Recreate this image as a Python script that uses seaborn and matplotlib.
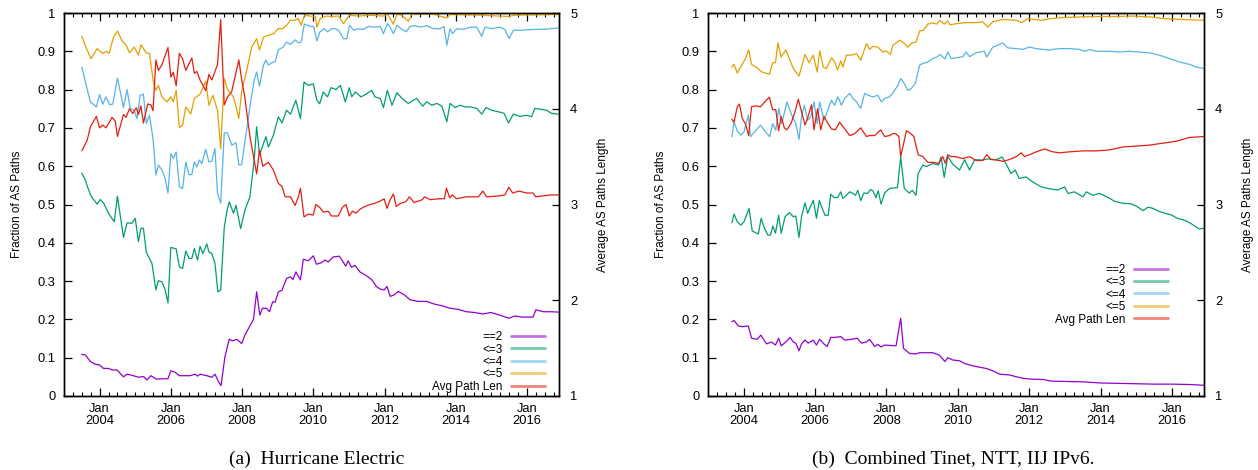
import numpy as np
import pandas as pd
import matplotlib
matplotlib.use("Agg")
import matplotlib.pyplot as plt
from matplotlib.lines import Line2D
import seaborn as sns

# ---------------- Panel (a): Hurricane Electric ----------------
he_t_eq2 = [2003.50, 2003.60, 2003.74, 2003.88, 2004.00, 2004.11, 2004.25, 2004.35, 2004.49, 2004.67,
            2004.77, 2004.91, 2005.09, 2005.23, 2005.33, 2005.44, 2005.59, 2005.75, 2005.92, 2006.00,
            2006.12, 2006.24, 2006.40, 2006.54, 2006.68, 2006.75, 2006.82, 2007.01, 2007.15, 2007.24,
            2007.34, 2007.41, 2007.52, 2007.64, 2007.73, 2007.85, 2007.99, 2008.08, 2008.32, 2008.41,
            2008.50, 2008.57, 2008.69, 2008.77, 2008.86, 2008.93, 2009.02, 2009.12, 2009.25, 2009.36,
            2009.43, 2009.51, 2009.64, 2009.72, 2009.86, 2010.00, 2010.09, 2010.23, 2010.33, 2010.42,
            2010.56, 2010.73, 2010.84, 2010.91, 2010.98, 2011.07, 2011.17, 2011.31, 2011.48, 2011.65,
            2011.77, 2011.88, 2011.99, 2012.07, 2012.16, 2012.27, 2012.39, 2012.56, 2012.72, 2012.95,
            2013.18, 2013.40, 2013.63, 2013.85, 2014.08, 2014.30, 2014.53, 2014.76, 2014.98, 2015.21,
            2015.49, 2015.66, 2015.88, 2016.17, 2016.25, 2016.46, 2016.68, 2016.90]
he_eq2 = [0.109, 0.107, 0.090, 0.083, 0.081, 0.072, 0.072, 0.068, 0.068, 0.050,
          0.057, 0.054, 0.049, 0.051, 0.042, 0.053, 0.044, 0.045, 0.045, 0.066,
          0.062, 0.053, 0.053, 0.053, 0.057, 0.052, 0.057, 0.053, 0.049, 0.057,
          0.037, 0.027, 0.103, 0.148, 0.144, 0.148, 0.137, 0.159, 0.200, 0.272,
          0.211, 0.229, 0.229, 0.220, 0.246, 0.245, 0.272, 0.276, 0.307, 0.311,
          0.304, 0.324, 0.303, 0.357, 0.353, 0.366, 0.344, 0.348, 0.355, 0.350,
          0.363, 0.365, 0.350, 0.339, 0.353, 0.336, 0.341, 0.324, 0.315, 0.303,
          0.286, 0.279, 0.277, 0.286, 0.260, 0.264, 0.273, 0.264, 0.251, 0.247,
          0.247, 0.240, 0.235, 0.229, 0.226, 0.220, 0.218, 0.214, 0.218, 0.212,
          0.203, 0.209, 0.206, 0.206, 0.225, 0.220, 0.220, 0.219]

he_t_le3 = [2003.50, 2003.60, 2003.66, 2003.76, 2003.93, 2004.02, 2004.11, 2004.25, 2004.41, 2004.50,
            2004.67, 2004.77, 2004.91, 2005.00, 2005.09, 2005.16, 2005.23, 2005.31, 2005.47, 2005.58,
            2005.65, 2005.75, 2005.84, 2005.92, 2006.00, 2006.15, 2006.24, 2006.33, 2006.42, 2006.51,
            2006.59, 2006.66, 2006.75, 2006.82, 2006.90, 2007.01, 2007.07, 2007.15, 2007.24, 2007.32,
            2007.40, 2007.50, 2007.58, 2007.64, 2007.76, 2007.83, 2007.96, 2008.08, 2008.22, 2008.34,
            2008.41, 2008.49, 2008.60, 2008.67, 2008.74, 2008.88, 2009.02, 2009.12, 2009.25, 2009.36,
            2009.51, 2009.64, 2009.74, 2009.86, 2010.00, 2010.10, 2010.18, 2010.28, 2010.40, 2010.50,
            2010.64, 2010.76, 2010.90, 2011.01, 2011.08, 2011.18, 2011.34, 2011.46, 2011.64, 2011.73,
            2011.88, 2011.97, 2012.08, 2012.21, 2012.35, 2012.49, 2012.67, 2012.81, 2012.90, 2013.07,
            2013.19, 2013.33, 2013.47, 2013.61, 2013.75, 2013.84, 2013.98, 2014.12, 2014.26, 2014.40,
            2014.59, 2014.73, 2014.85, 2015.01, 2015.20, 2015.36, 2015.48, 2015.62, 2015.80, 2015.99,
            2016.13, 2016.22, 2016.36, 2016.55, 2016.69, 2016.88]
he_le3 = [0.582, 0.564, 0.546, 0.522, 0.501, 0.513, 0.504, 0.477, 0.455, 0.522,
          0.414, 0.452, 0.451, 0.464, 0.403, 0.438, 0.438, 0.376, 0.346, 0.277,
          0.301, 0.298, 0.277, 0.243, 0.388, 0.384, 0.337, 0.333, 0.379, 0.359,
          0.359, 0.385, 0.355, 0.391, 0.372, 0.397, 0.376, 0.372, 0.346, 0.272,
          0.277, 0.440, 0.485, 0.507, 0.477, 0.498, 0.437, 0.485, 0.520, 0.616,
          0.703, 0.629, 0.659, 0.677, 0.650, 0.681, 0.729, 0.713, 0.746, 0.736,
          0.772, 0.724, 0.820, 0.811, 0.815, 0.772, 0.763, 0.794, 0.781, 0.805,
          0.800, 0.811, 0.768, 0.805, 0.781, 0.794, 0.781, 0.787, 0.798, 0.781,
          0.777, 0.753, 0.798, 0.759, 0.792, 0.777, 0.764, 0.772, 0.777, 0.757,
          0.768, 0.759, 0.764, 0.757, 0.716, 0.764, 0.753, 0.759, 0.755, 0.755,
          0.751, 0.736, 0.753, 0.746, 0.742, 0.738, 0.713, 0.736, 0.730, 0.733,
          0.729, 0.751, 0.749, 0.746, 0.738, 0.736]

he_t_le4 = [2003.50, 2003.60, 2003.74, 2003.91, 2004.00, 2004.09, 2004.18, 2004.28, 2004.37, 2004.50,
            2004.61, 2004.67, 2004.77, 2004.86, 2004.97, 2005.05, 2005.14, 2005.23, 2005.31, 2005.40,
            2005.50, 2005.58, 2005.65, 2005.75, 2005.84, 2005.92, 2006.00, 2006.07, 2006.15, 2006.24,
            2006.33, 2006.42, 2006.51, 2006.59, 2006.66, 2006.73, 2006.80, 2006.87, 2006.98, 2007.07,
            2007.15, 2007.24, 2007.31, 2007.40, 2007.50, 2007.59, 2007.71, 2007.83, 2007.91, 2007.99,
            2008.08, 2008.22, 2008.34, 2008.41, 2008.49, 2008.60, 2008.67, 2008.74, 2008.83, 2008.93,
            2009.02, 2009.14, 2009.25, 2009.36, 2009.49, 2009.58, 2009.66, 2009.75, 2009.92, 2010.01,
            2010.10, 2010.19, 2010.31, 2010.40, 2010.52, 2010.61, 2010.71, 2010.85, 2010.94, 2011.02,
            2011.13, 2011.27, 2011.41, 2011.55, 2011.69, 2011.88, 2011.97, 2012.08, 2012.16, 2012.25,
            2012.35, 2012.49, 2012.61, 2012.72, 2012.86, 2013.00, 2013.19, 2013.37, 2013.56, 2013.67,
            2013.75, 2013.84, 2013.91, 2014.03, 2014.21, 2014.40, 2014.59, 2014.73, 2014.82, 2015.01,
            2015.24, 2015.38, 2015.50, 2015.62, 2015.80, 2016.18, 2016.55, 2016.88]
he_le4 = [0.859, 0.820, 0.768, 0.755, 0.787, 0.762, 0.781, 0.761, 0.762, 0.830,
          0.781, 0.753, 0.800, 0.751, 0.746, 0.724, 0.785, 0.788, 0.711, 0.733,
          0.672, 0.577, 0.603, 0.590, 0.568, 0.530, 0.633, 0.620, 0.637, 0.546,
          0.542, 0.611, 0.578, 0.578, 0.611, 0.598, 0.616, 0.607, 0.644, 0.611,
          0.613, 0.646, 0.529, 0.504, 0.687, 0.687, 0.655, 0.661, 0.603, 0.605,
          0.663, 0.755, 0.824, 0.846, 0.809, 0.864, 0.877, 0.864, 0.870, 0.873,
          0.904, 0.910, 0.924, 0.918, 0.930, 0.922, 0.924, 0.971, 0.965, 0.965,
          0.927, 0.951, 0.959, 0.951, 0.959, 0.959, 0.955, 0.933, 0.933, 0.968,
          0.955, 0.959, 0.957, 0.965, 0.963, 0.965, 0.946, 0.972, 0.963, 0.946,
          0.968, 0.957, 0.951, 0.965, 0.967, 0.963, 0.967, 0.959, 0.959, 0.965,
          0.916, 0.959, 0.946, 0.959, 0.957, 0.963, 0.963, 0.939, 0.963, 0.959,
          0.963, 0.957, 0.933, 0.955, 0.955, 0.957, 0.958, 0.961]

he_t_le5 = [2003.50, 2003.65, 2003.76, 2003.93, 2004.09, 2004.18, 2004.27, 2004.39, 2004.50, 2004.63,
            2004.74, 2004.84, 2004.97, 2005.09, 2005.16, 2005.31, 2005.40, 2005.51, 2005.58, 2005.65,
            2005.75, 2005.89, 2006.00, 2006.07, 2006.15, 2006.24, 2006.33, 2006.42, 2006.56, 2006.66,
            2006.82, 2006.98, 2007.07, 2007.18, 2007.31, 2007.40, 2007.50, 2007.59, 2007.76, 2007.91,
            2007.99, 2008.13, 2008.27, 2008.41, 2008.49, 2008.60, 2008.74, 2008.88, 2009.02, 2009.14,
            2009.25, 2009.36, 2009.49, 2009.58, 2009.66, 2009.75, 2009.92, 2010.06, 2010.10, 2010.19,
            2010.36, 2010.52, 2010.71, 2010.85, 2010.94, 2011.02, 2011.27, 2011.60, 2011.97, 2012.08,
            2012.25, 2012.35, 2012.49, 2012.67, 2012.76, 2013.37, 2013.75, 2013.84, 2014.73, 2015.50,
            2015.62, 2016.88]
he_le5 = [0.939, 0.903, 0.881, 0.907, 0.894, 0.900, 0.895, 0.937, 0.953, 0.927,
          0.917, 0.896, 0.911, 0.890, 0.917, 0.896, 0.894, 0.820, 0.798, 0.811,
          0.781, 0.768, 0.781, 0.768, 0.798, 0.701, 0.707, 0.755, 0.736, 0.777,
          0.788, 0.822, 0.759, 0.785, 0.746, 0.646, 0.829, 0.801, 0.781, 0.725,
          0.796, 0.850, 0.911, 0.933, 0.903, 0.937, 0.942, 0.946, 0.959, 0.959,
          0.968, 0.981, 0.981, 0.986, 0.968, 0.994, 0.992, 0.991, 0.963, 0.985,
          0.992, 0.991, 0.992, 0.972, 0.985, 0.994, 0.992, 0.994, 0.992, 0.998,
          0.971, 0.997, 0.994, 0.978, 0.997, 0.997, 0.987, 0.996, 0.994, 0.991,
          0.994, 0.996]

he_t_avg = [2003.50, 2003.65, 2003.74, 2003.91, 2004.00, 2004.09, 2004.18, 2004.35, 2004.44, 2004.50,
            2004.67, 2004.74, 2004.84, 2004.93, 2005.03, 2005.09, 2005.16, 2005.23, 2005.35, 2005.44,
            2005.50, 2005.58, 2005.65, 2005.75, 2005.92, 2006.00, 2006.07, 2006.15, 2006.24, 2006.33,
            2006.42, 2006.59, 2006.66, 2006.73, 2006.82, 2006.98, 2007.07, 2007.15, 2007.21, 2007.31,
            2007.40, 2007.50, 2007.59, 2007.71, 2007.91, 2007.99, 2008.07, 2008.22, 2008.41, 2008.49,
            2008.58, 2008.74, 2008.88, 2009.02, 2009.12, 2009.21, 2009.36, 2009.49, 2009.58, 2009.64,
            2009.74, 2009.86, 2010.00, 2010.07, 2010.18, 2010.28, 2010.42, 2010.51, 2010.70, 2010.82,
            2010.92, 2011.01, 2011.10, 2011.20, 2011.31, 2011.45, 2011.60, 2011.71, 2011.85, 2011.99,
            2012.07, 2012.16, 2012.25, 2012.33, 2012.44, 2012.60, 2012.70, 2012.83, 2013.06, 2013.12,
            2013.29, 2013.51, 2013.68, 2013.74, 2013.83, 2013.91, 2014.02, 2014.30, 2014.64, 2014.76,
            2014.87, 2015.21, 2015.38, 2015.49, 2015.60, 2015.77, 2016.00, 2016.17, 2016.25, 2016.46,
            2016.68, 2016.90]
he_avg = [3.56, 3.67, 3.81, 3.92, 3.80, 3.83, 3.80, 3.91, 3.87, 3.71,
          3.94, 3.91, 4.00, 3.95, 4.01, 3.94, 4.03, 3.85, 4.05, 4.04,
          3.98, 4.51, 4.40, 4.46, 4.64, 4.33, 4.38, 4.24, 4.58, 4.52,
          4.40, 4.53, 4.37, 4.39, 4.30, 4.19, 4.36, 4.30, 4.36, 4.46,
          4.93, 4.04, 4.12, 4.18, 4.51, 4.30, 4.14, 3.71, 3.32, 3.57,
          3.40, 3.44, 3.36, 3.22, 3.19, 3.08, 3.08, 2.99, 3.08, 3.17,
          2.87, 2.90, 2.89, 3.00, 2.97, 2.92, 2.93, 2.88, 2.88, 2.97,
          3.00, 2.88, 2.93, 2.91, 2.95, 2.98, 3.00, 3.01, 3.03, 3.06,
          2.96, 3.05, 3.11, 2.98, 3.01, 3.03, 3.08, 3.02, 3.05, 3.08,
          3.05, 3.06, 3.06, 3.17, 3.07, 3.10, 3.06, 3.08, 3.08, 3.14,
          3.08, 3.09, 3.10, 3.18, 3.12, 3.14, 3.12, 3.12, 3.08, 3.09,
          3.10, 3.10]

# ---------------- Panel (b): Combined Tinet, NTT, IIJ IPv6 ----------------
cb_t_eq2 = [2003.67, 2003.73, 2003.85, 2003.96, 2004.13, 2004.22, 2004.38, 2004.48, 2004.64, 2004.78,
            2004.89, 2004.98, 2005.05, 2005.18, 2005.30, 2005.39, 2005.46, 2005.55, 2005.62, 2005.72,
            2005.81, 2005.95, 2006.04, 2006.13, 2006.25, 2006.34, 2006.44, 2006.55, 2006.72, 2006.83,
            2007.02, 2007.18, 2007.30, 2007.44, 2007.53, 2007.67, 2007.76, 2007.85, 2007.95, 2008.27,
            2008.40, 2008.48, 2008.65, 2008.83, 2008.93, 2009.30, 2009.48, 2009.64, 2009.72, 2009.86,
            2010.05, 2010.19, 2010.33, 2010.51, 2010.79, 2010.98, 2011.17, 2011.45, 2011.65, 2011.85,
            2012.05, 2012.40, 2012.60, 2013.00, 2013.50, 2014.00, 2014.50, 2015.00, 2015.50, 2016.00,
            2016.50, 2016.90]
cb_eq2 = [0.194, 0.197, 0.183, 0.181, 0.183, 0.151, 0.148, 0.159, 0.136, 0.141,
          0.133, 0.151, 0.131, 0.141, 0.153, 0.141, 0.138, 0.118, 0.136, 0.146,
          0.138, 0.146, 0.133, 0.148, 0.136, 0.129, 0.153, 0.153, 0.155, 0.146,
          0.148, 0.151, 0.138, 0.141, 0.148, 0.129, 0.135, 0.128, 0.133, 0.131,
          0.203, 0.124, 0.111, 0.110, 0.113, 0.113, 0.107, 0.090, 0.100, 0.094,
          0.092, 0.085, 0.081, 0.077, 0.072, 0.066, 0.057, 0.055, 0.050, 0.046,
          0.044, 0.043, 0.039, 0.038, 0.037, 0.034, 0.033, 0.032, 0.031, 0.031,
          0.030, 0.028]

cb_t_le3 = [2003.67, 2003.73, 2003.82, 2003.92, 2004.01, 2004.15, 2004.24, 2004.41, 2004.49, 2004.58,
            2004.68, 2004.75, 2004.82, 2004.89, 2004.98, 2005.05, 2005.16, 2005.28, 2005.39, 2005.46,
            2005.55, 2005.62, 2005.72, 2005.79, 2005.95, 2006.04, 2006.12, 2006.20, 2006.28, 2006.37,
            2006.44, 2006.54, 2006.63, 2006.72, 2006.78, 2006.88, 2006.97, 2007.06, 2007.13, 2007.20,
            2007.28, 2007.37, 2007.48, 2007.55, 2007.62, 2007.71, 2007.77, 2007.85, 2007.95, 2008.09,
            2008.31, 2008.40, 2008.50, 2008.64, 2008.73, 2008.83, 2008.89, 2009.02, 2009.12, 2009.30,
            2009.46, 2009.53, 2009.62, 2009.72, 2009.86, 2010.05, 2010.19, 2010.33, 2010.47, 2010.70,
            2010.84, 2011.08, 2011.24, 2011.35, 2011.49, 2011.61, 2011.72, 2011.91, 2012.10, 2012.34,
            2012.57, 2012.80, 2012.99, 2013.09, 2013.27, 2013.51, 2013.60, 2013.79, 2013.97, 2014.07,
            2014.24, 2014.40, 2014.63, 2014.85, 2015.02, 2015.19, 2015.33, 2015.47, 2015.64, 2015.81,
            2015.98, 2016.15, 2016.32, 2016.49, 2016.65, 2016.77, 2016.90]
cb_le3 = [0.452, 0.475, 0.455, 0.446, 0.455, 0.490, 0.431, 0.423, 0.464, 0.438,
          0.420, 0.420, 0.444, 0.425, 0.472, 0.425, 0.468, 0.479, 0.468, 0.470,
          0.414, 0.468, 0.504, 0.477, 0.511, 0.464, 0.510, 0.490, 0.472, 0.472,
          0.527, 0.518, 0.518, 0.533, 0.516, 0.524, 0.533, 0.529, 0.524, 0.537,
          0.510, 0.530, 0.529, 0.539, 0.536, 0.518, 0.536, 0.501, 0.530, 0.542,
          0.544, 0.624, 0.542, 0.530, 0.537, 0.524, 0.581, 0.603, 0.599, 0.607,
          0.603, 0.624, 0.571, 0.626, 0.605, 0.590, 0.617, 0.590, 0.617, 0.616,
          0.619, 0.617, 0.624, 0.607, 0.581, 0.590, 0.568, 0.572, 0.559, 0.546,
          0.541, 0.538, 0.546, 0.529, 0.533, 0.520, 0.533, 0.524, 0.529, 0.525,
          0.517, 0.508, 0.503, 0.502, 0.495, 0.484, 0.493, 0.490, 0.482, 0.477,
          0.473, 0.464, 0.460, 0.453, 0.443, 0.436, 0.438]

cb_t_le4 = [2003.67, 2003.73, 2003.82, 2003.92, 2004.01, 2004.13, 2004.19, 2004.33, 2004.47, 2004.61,
            2004.73, 2004.81, 2004.90, 2004.98, 2005.07, 2005.21, 2005.35, 2005.46, 2005.55, 2005.62,
            2005.70, 2005.79, 2005.88, 2005.97, 2006.06, 2006.13, 2006.25, 2006.34, 2006.46, 2006.55,
            2006.64, 2006.74, 2006.83, 2006.97, 2007.06, 2007.16, 2007.28, 2007.39, 2007.50, 2007.62,
            2007.76, 2007.86, 2007.95, 2008.09, 2008.23, 2008.32, 2008.40, 2008.50, 2008.60, 2008.69,
            2008.81, 2008.93, 2009.02, 2009.16, 2009.30, 2009.41, 2009.50, 2009.64, 2009.72, 2009.81,
            2009.95, 2010.14, 2010.23, 2010.33, 2010.51, 2010.74, 2010.81, 2010.98, 2011.17, 2011.26,
            2011.40, 2011.64, 2011.82, 2012.01, 2012.20, 2012.38, 2012.57, 2012.66, 2012.85, 2013.13,
            2013.41, 2013.55, 2013.69, 2013.88, 2014.25, 2014.53, 2014.81, 2015.09, 2015.37, 2015.65,
            2015.93, 2016.21, 2016.49, 2016.68, 2016.90]
cb_le4 = [0.677, 0.716, 0.692, 0.681, 0.690, 0.733, 0.677, 0.692, 0.707, 0.690,
          0.677, 0.711, 0.694, 0.751, 0.711, 0.768, 0.733, 0.711, 0.670, 0.729,
          0.759, 0.720, 0.729, 0.768, 0.711, 0.768, 0.720, 0.742, 0.772, 0.759,
          0.781, 0.759, 0.777, 0.790, 0.777, 0.768, 0.751, 0.790, 0.785, 0.781,
          0.785, 0.768, 0.777, 0.781, 0.798, 0.811, 0.829, 0.816, 0.798, 0.802,
          0.816, 0.864, 0.868, 0.872, 0.881, 0.885, 0.892, 0.880, 0.898, 0.881,
          0.883, 0.886, 0.898, 0.886, 0.896, 0.900, 0.885, 0.911, 0.918, 0.922,
          0.909, 0.907, 0.905, 0.911, 0.907, 0.905, 0.903, 0.905, 0.907, 0.907,
          0.905, 0.900, 0.905, 0.900, 0.900, 0.898, 0.900, 0.898, 0.896, 0.890,
          0.881, 0.872, 0.866, 0.859, 0.855]

cb_t_le5 = [2003.67, 2003.73, 2003.82, 2004.05, 2004.14, 2004.22, 2004.37, 2004.51, 2004.72, 2004.81,
            2004.89, 2004.96, 2005.05, 2005.18, 2005.39, 2005.55, 2005.72, 2005.83, 2005.95, 2006.06,
            2006.13, 2006.23, 2006.32, 2006.46, 2006.55, 2006.63, 2006.72, 2006.78, 2006.88, 2007.02,
            2007.16, 2007.28, 2007.44, 2007.53, 2007.62, 2007.76, 2007.90, 2007.99, 2008.11, 2008.18,
            2008.30, 2008.37, 2008.48, 2008.60, 2008.72, 2008.83, 2008.93, 2009.04, 2009.16, 2009.30,
            2009.41, 2009.50, 2009.62, 2009.72, 2009.78, 2009.95, 2010.23, 2010.51, 2010.70, 2010.84,
            2010.98, 2011.26, 2011.64, 2011.80, 2011.96, 2012.15, 2012.34, 2012.57, 2012.95, 2013.51,
            2013.97, 2014.44, 2014.91, 2015.37, 2015.84, 2016.31, 2016.90]
cb_le5 = [0.859, 0.866, 0.843, 0.881, 0.904, 0.866, 0.857, 0.846, 0.840, 0.870,
          0.870, 0.922, 0.885, 0.904, 0.855, 0.835, 0.892, 0.870, 0.890, 0.846,
          0.901, 0.859, 0.855, 0.883, 0.872, 0.851, 0.875, 0.859, 0.890, 0.890,
          0.894, 0.877, 0.920, 0.905, 0.913, 0.911, 0.898, 0.901, 0.892, 0.916,
          0.924, 0.929, 0.922, 0.911, 0.922, 0.924, 0.953, 0.955, 0.971, 0.974,
          0.971, 0.981, 0.971, 0.979, 0.969, 0.972, 0.975, 0.975, 0.977, 0.963,
          0.977, 0.983, 0.981, 0.975, 0.985, 0.983, 0.981, 0.985, 0.988, 0.990,
          0.991, 0.991, 0.992, 0.990, 0.985, 0.983, 0.981]

cb_t_avg = [2003.67, 2003.73, 2003.82, 2003.88, 2003.96, 2004.05, 2004.14, 2004.22, 2004.33, 2004.47,
            2004.61, 2004.72, 2004.81, 2004.90, 2004.98, 2005.05, 2005.14, 2005.21, 2005.33, 2005.44,
            2005.53, 2005.62, 2005.72, 2005.79, 2005.90, 2005.97, 2006.07, 2006.16, 2006.25, 2006.34,
            2006.46, 2006.57, 2006.69, 2006.83, 2006.97, 2007.11, 2007.28, 2007.44, 2007.53, 2007.67,
            2007.84, 2007.95, 2008.09, 2008.18, 2008.26, 2008.35, 2008.40, 2008.46, 2008.56, 2008.65,
            2008.77, 2008.89, 2009.02, 2009.16, 2009.30, 2009.46, 2009.58, 2009.65, 2009.72, 2009.81,
            2009.93, 2010.14, 2010.33, 2010.51, 2010.70, 2010.81, 2010.93, 2011.17, 2011.26, 2011.45,
            2011.64, 2011.78, 2011.87, 2012.01, 2012.20, 2012.43, 2012.66, 2012.85, 2013.13, 2013.51,
            2013.88, 2014.25, 2014.62, 2015.00, 2015.37, 2015.74, 2016.12, 2016.49, 2016.90]
cb_avg = [3.89, 3.86, 4.02, 4.05, 3.90, 3.84, 3.72, 4.02, 4.03, 4.02,
          4.08, 4.12, 3.99, 3.99, 3.77, 3.92, 3.80, 3.78, 3.85, 3.97,
          4.10, 3.97, 3.83, 3.90, 4.04, 3.78, 4.00, 3.78, 3.92, 3.86,
          3.79, 3.78, 3.86, 3.79, 3.72, 3.74, 3.80, 3.71, 3.72, 3.72,
          3.78, 3.71, 3.72, 3.74, 3.74, 3.71, 3.50, 3.60, 3.77, 3.75,
          3.71, 3.52, 3.50, 3.44, 3.44, 3.43, 3.50, 3.43, 3.52, 3.50,
          3.50, 3.48, 3.50, 3.46, 3.46, 3.52, 3.47, 3.46, 3.45, 3.47,
          3.50, 3.54, 3.50, 3.52, 3.55, 3.58, 3.55, 3.54, 3.55, 3.56,
          3.56, 3.57, 3.60, 3.61, 3.62, 3.64, 3.66, 3.70, 3.71]

series_labels = ["==2", "<=3", "<=4", "<=5", "Avg Path Len"]
series_colors = ["#9400D3", "#009E73", "#56B4E9", "#E69F00", "#E51E10"]
year_ticks = [2004, 2006, 2008, 2010, 2012, 2014, 2016]
year_tick_labels = ["Jan\n2004", "Jan\n2006", "Jan\n2008", "Jan\n2010", "Jan\n2012", "Jan\n2014", "Jan\n2016"]
left_ticks = [0, 0.1, 0.2, 0.3, 0.4, 0.5, 0.6, 0.7, 0.8, 0.9, 1]
left_tick_labels = ["0", "0.1", "0.2", "0.3", "0.4", "0.5", "0.6", "0.7", "0.8", "0.9", "1"]
right_ticks = [1, 2, 3, 4, 5]
captions = ["(a)  Hurricane Electric", "(b)  Combined Tinet, NTT, IIJ IPv6."]

# ---------------- styling ----------------
sns.set_style("white", {"axes.edgecolor": "black", "xtick.color": "black",
                        "ytick.color": "black", "text.color": "black",
                        "axes.labelcolor": "black"})
plt.rcParams['font.family'] = ['Liberation Sans', 'DejaVu Sans']
FS = 8.5      # axis labels / legend
TFS = 9.3     # tick labels

fig = plt.figure(figsize=(12.58, 4.70), dpi=100)


def draw_panel(rect, frac_series, avg_t, avg_v, legend_anchor, caption, cap_x):
    ax = fig.add_axes(rect)
    ax2 = ax.twinx()
    for (t, v), col in zip(frac_series, series_colors[:4]):
        df = pd.DataFrame({"t": t, "v": v})
        sns.lineplot(data=df, x="t", y="v", ax=ax, color=col, lw=0.9,
                     estimator=None, legend=False)
    df = pd.DataFrame({"t": avg_t, "v": avg_v})
    sns.lineplot(data=df, x="t", y="v", ax=ax2, color=series_colors[4], lw=0.9,
                 estimator=None, legend=False)

    ax.set_xlim(2003.0, 2016.9)
    ax.set_ylim(0, 1)
    ax2.set_ylim(1, 5)

    ax.set_xticks(year_ticks)
    ax.set_xticklabels(year_tick_labels, linespacing=1.0)
    ax.set_xticks(np.arange(2003.0, 2016.95, 0.25), minor=True)
    ax.tick_params(axis="x", which="major", direction="in", top=True, bottom=True,
                   length=6, width=0.9, pad=5, labelsize=TFS)
    ax.tick_params(axis="x", which="minor", direction="in", top=True, bottom=True,
                   length=3, width=0.8)
    ax.set_yticks(left_ticks)
    ax.set_yticklabels(left_tick_labels)
    ax.tick_params(axis="y", which="major", direction="in", left=True, right=False,
                   length=6, width=0.9, pad=6, labelsize=TFS)
    ax2.set_yticks(right_ticks)
    ax2.tick_params(axis="y", which="major", direction="in", left=False, right=True,
                    length=5, width=0.9, pad=8, labelsize=TFS)

    ax.set_xlabel("")
    ax.set_ylabel("Fraction of AS Paths", fontsize=FS)
    ax2.set_ylabel("Average AS Paths Length", fontsize=FS)
    ax.yaxis.set_label_coords(-0.082, 0.5)
    ax2.yaxis.set_label_coords(1.076, 0.5)

    for a in (ax, ax2):
        for sp in a.spines.values():
            sp.set_linewidth(1.0)
            sp.set_color("black")

    handles = [Line2D([], [], color=c, lw=2.0, alpha=0.55) for c in series_colors]
    ax2.legend(handles, series_labels, loc="lower right", bbox_to_anchor=legend_anchor,
               markerfirst=False, frameon=False, fontsize=FS, handlelength=2.9,
               handletextpad=0.7, labelspacing=0.04, borderpad=0, borderaxespad=0)

    fig.text(cap_x, 0.022, caption, ha="center", va="center",
             family=["Liberation Serif", "DejaVu Serif"], fontsize=14)
    return ax, ax2


rect_a = [64 / 1258, 1 - 396 / 470, (559 - 64) / 1258, (396 - 13) / 470]
rect_b = [708 / 1258, 1 - 396 / 470, (1204 - 708) / 1258, (396 - 13) / 470]

draw_panel(rect_a,
           [(he_t_eq2, he_eq2), (he_t_le3, he_le3), (he_t_le4, he_le4), (he_t_le5, he_le5)],
           he_t_avg, he_avg, (0.972, 0.008), captions[0], 0.252)
draw_panel(rect_b,
           [(cb_t_eq2, cb_eq2), (cb_t_le3, cb_le3), (cb_t_le4, cb_le4), (cb_t_le5, cb_le5)],
           cb_t_avg, cb_avg, (0.927, 0.184), captions[1], 0.758)

fig.savefig("out.png", dpi=100)
